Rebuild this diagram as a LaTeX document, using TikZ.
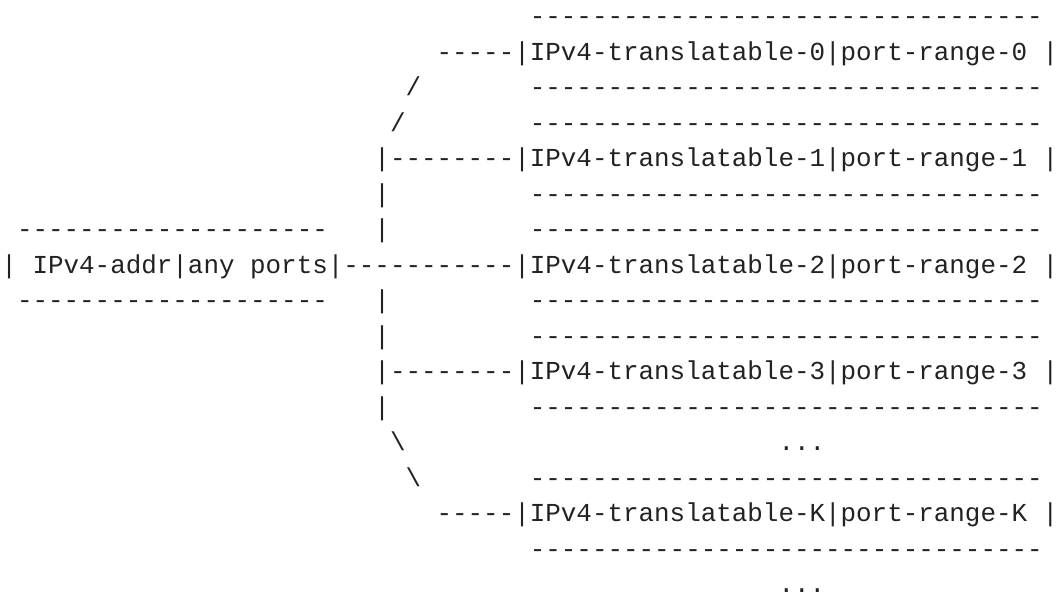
\documentclass[tikz,border=0pt]{standalone}
\usepackage{fontspec}
\setmonofont{Liberation Mono}
\definecolor{ink}{HTML}{222222}
% place a run of monospaced text with its left edge at column #2 and baseline on row #3
\newcommand\asc[4]{\node[txt] (#1) at (#2,#3) {#4};}
\begin{document}
\begin{tikzpicture}[x=7.77pt,y=-17.75pt,
  txt/.style={anchor=base west, inner sep=0pt, outer sep=0pt,
    font=\ttfamily\fontsize{12.95pt}{12.95pt}\selectfont, text=ink}]
\useasboundingbox (0pt,0pt) rectangle (529.5pt,-297pt);
\begin{scope}[shift={(0.75pt,-12.25pt)}]
  % source address box
  \asc{srctop}{1}{6}{--------------------}
  \asc{src}{0}{7}{| IPv4-addr|any ports|}
  \asc{srcbot}{1}{8}{--------------------}
  % fan-out connector
  \asc{c0}{28}{1}{-----}
  \asc{s0a}{26}{2}{/}
  \asc{s0b}{25}{3}{/}
  \asc{c1}{24}{4}{|--------}
  \asc{v1}{24}{5}{|}
  \asc{v2}{24}{6}{|}
  \asc{c2}{22}{7}{-----------}
  \asc{v3}{24}{8}{|}
  \asc{v4}{24}{9}{|}
  \asc{c3}{24}{10}{|--------}
  \asc{v5}{24}{11}{|}
  \asc{sKa}{25}{12}{\textbackslash}
  \asc{sKb}{26}{13}{\textbackslash}
  \asc{cK}{28}{14}{-----}
  % translatable address boxes
  \asc{t0top}{34}{0}{---------------------------------}
  \asc{t0}{33}{1}{|IPv4-translatable-0|port-range-0 |}
  \asc{t0bot}{34}{2}{---------------------------------}
  \asc{t1top}{34}{3}{---------------------------------}
  \asc{t1}{33}{4}{|IPv4-translatable-1|port-range-1 |}
  \asc{t1bot}{34}{5}{---------------------------------}
  \asc{t2top}{34}{6}{---------------------------------}
  \asc{t2}{33}{7}{|IPv4-translatable-2|port-range-2 |}
  \asc{t2bot}{34}{8}{---------------------------------}
  \asc{t3top}{34}{9}{---------------------------------}
  \asc{t3}{33}{10}{|IPv4-translatable-3|port-range-3 |}
  \asc{t3bot}{34}{11}{---------------------------------}
  \asc{gap}{50}{12}{...}
  \asc{tKtop}{34}{13}{---------------------------------}
  \asc{tK}{33}{14}{|IPv4-translatable-K|port-range-K |}
  \asc{tKbot}{34}{15}{---------------------------------}
  \asc{more}{50}{16}{...}
\end{scope}
\end{tikzpicture}
\end{document}
